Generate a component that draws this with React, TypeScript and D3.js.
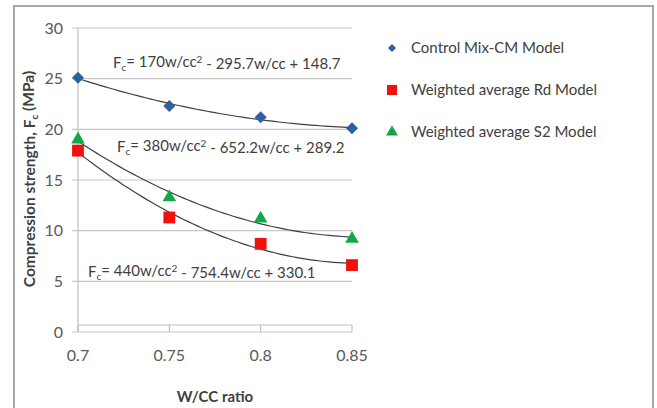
import React, { useEffect, useRef } from 'react';
import * as d3 from 'd3';

const ratios = [0.7, 0.75, 0.8, 0.85];
const controlMix = [25.1, 22.3, 21.2, 20.1];
const rdModel = [17.9, 11.3, 8.7, 6.6];
const s2Model = [19.0, 13.3, 11.2, 9.2];
const yTicks = [0, 5, 10, 15, 20, 25, 30];
const xTicks = [0.7, 0.75, 0.8, 0.85];
const legendNames = ['Control Mix-CM Model', 'Weighted average Rd Model', 'Weighted average S2 Model'];
const equations = [
  { a: '170', b: '295.7', c: '148.7' },
  { a: '380', b: '652.2', c: '289.2' },
  { a: '440', b: '754.4', c: '330.1' },
];

// least squares quadratic, same as an excel poly(2) trendline
function polyFit2(xs: number[], ys: number[]) {
  let s0 = 0, s1 = 0, s2 = 0, s3 = 0, s4 = 0, t0 = 0, t1 = 0, t2 = 0;
  xs.forEach((x, i) => {
    const y = ys[i];
    s0 += 1; s1 += x; s2 += x * x; s3 += x * x * x; s4 += x * x * x * x;
    t0 += y; t1 += x * y; t2 += x * x * y;
  });
  const m = [
    [s4, s3, s2, t2],
    [s3, s2, s1, t1],
    [s2, s1, s0, t0],
  ];
  for (let i = 0; i < 3; i++) {
    for (let k = i + 1; k < 3; k++) {
      const f = m[k][i] / m[i][i];
      for (let j = i; j < 4; j++) m[k][j] -= f * m[i][j];
    }
  }
  const r = [0, 0, 0];
  for (let i = 2; i >= 0; i--) {
    let s = m[i][3];
    for (let j = i + 1; j < 3; j++) s -= m[i][j] * r[j];
    r[i] = s / m[i][i];
  }
  return (x: number) => r[0] * x * x + r[1] * x + r[2];
}

export default function App() {
  const ref = useRef<SVGSVGElement>(null);

  useEffect(() => {
    document.body.style.margin = '0';
    const width = 657;
    const height = 408;
    const svg = d3.select(ref.current).attr('width', width).attr('height', height);
    svg.selectAll('*').remove();

    const font = 'Lato, "Open Sans", sans-serif';
    const x = d3.scaleLinear().domain([0.7, 0.85]).range([78, 352]);
    const y = d3.scaleLinear().domain([0, 30]).range([332, 28]);

    svg.append('rect').attr('width', width).attr('height', height).attr('fill', '#fff');

    // outer frame
    svg.append('path')
      .attr('d', 'M14,410 L14,6 L653,6 L653,410')
      .attr('fill', 'none')
      .attr('stroke', '#a8a8a8')
      .attr('stroke-width', 2);

    // gridlines
    svg.append('g')
      .selectAll('line')
      .data(yTicks)
      .enter()
      .append('line')
      .attr('x1', 72)
      .attr('x2', x(0.85))
      .attr('y1', d => y(d))
      .attr('y2', d => y(d))
      .attr('stroke', '#c8c8c8')
      .attr('stroke-width', 1.2);

    // y axis line
    svg.append('line')
      .attr('x1', x(0.7)).attr('x2', x(0.7))
      .attr('y1', y(30)).attr('y2', y(0))
      .attr('stroke', '#c0c0c0').attr('stroke-width', 1.2);

    // x axis line sits a little above zero with ticks dropping down
    const axisY = y(0) - 7;
    svg.append('line')
      .attr('x1', x(0.7)).attr('x2', x(0.85))
      .attr('y1', axisY).attr('y2', axisY)
      .attr('stroke', '#c0c0c0').attr('stroke-width', 1.2);
    svg.append('g')
      .selectAll('line')
      .data(xTicks)
      .enter()
      .append('line')
      .attr('x1', d => x(d)).attr('x2', d => x(d))
      .attr('y1', axisY).attr('y2', y(0))
      .attr('stroke', '#c0c0c0').attr('stroke-width', 1.2);

    // tick labels
    svg.append('g')
      .selectAll('text')
      .data(yTicks)
      .enter()
      .append('text')
      .attr('x', 63)
      .attr('y', d => y(d))
      .attr('dy', '0.35em')
      .attr('text-anchor', 'end')
      .attr('font-family', font)
      .attr('font-size', 16)
      .attr('fill', '#595959')
      .text(d => d);

    svg.append('g')
      .selectAll('text')
      .data(xTicks)
      .enter()
      .append('text')
      .attr('x', d => x(d))
      .attr('y', 355)
      .attr('dy', '0.35em')
      .attr('text-anchor', 'middle')
      .attr('font-family', font)
      .attr('font-size', 16)
      .attr('fill', '#595959')
      .text(d => d);

    // axis titles
    svg.append('text')
      .attr('x', 215)
      .attr('y', 397)
      .attr('dy', '0.35em')
      .attr('text-anchor', 'middle')
      .attr('font-family', font)
      .attr('font-size', 15)
      .attr('font-weight', 'bold')
      .attr('fill', '#404040')
      .text('W/CC ratio');

    const yTitle = svg.append('text')
      .attr('transform', 'translate(30,179) rotate(-90)')
      .attr('dy', '0.35em')
      .attr('text-anchor', 'middle')
      .attr('font-family', font)
      .attr('font-size', 15.5)
      .attr('font-weight', 'bold')
      .attr('fill', '#404040');
    yTitle.append('tspan').text('Compression strength, F');
    yTitle.append('tspan').attr('font-size', 10).attr('dy', '0.3em').text('c');
    yTitle.append('tspan').attr('dy', '-0.3em').text(' (MPa)');

    // trendlines
    const xs = d3.range(0.7, 0.8501, 0.0025);
    [controlMix, rdModel, s2Model].forEach(vals => {
      const f = polyFit2(ratios, vals);
      svg.append('path')
        .attr('d', d3.line<number>().x(d => x(d)).y(d => y(f(d)))(xs))
        .attr('fill', 'none')
        .attr('stroke', '#404040')
        .attr('stroke-width', 1.2);
    });

    // equation labels
    const eqPos = [[113, 63], [117, 147], [88, 272]];
    equations.forEach((e, i) => {
      const t = svg.append('text')
        .attr('x', eqPos[i][0])
        .attr('y', eqPos[i][1])
        .attr('dy', '0.35em')
        .attr('font-family', font)
        .attr('font-size', 15)
        .attr('fill', '#404040');
      t.append('tspan').text('F');
      t.append('tspan').attr('font-size', 10).attr('dy', '0.3em').text('c');
      t.append('tspan').attr('dy', '-0.3em').text(`= ${e.a}w/cc`);
      t.append('tspan').attr('font-size', 10).attr('dy', '-0.4em').text('2');
      t.append('tspan').attr('dy', '0.4em').text(` - ${e.b}w/cc + ${e.c}`);
    });

    // markers
    const diamond = d3.symbol().type(d3.symbolSquare).size(72);
    const square = d3.symbol().type(d3.symbolSquare).size(140);
    const triangle = d3.symbol().type(d3.symbolTriangle).size(80);

    svg.append('g')
      .selectAll('path')
      .data(controlMix)
      .enter()
      .append('path')
      .attr('d', diamond)
      .attr('transform', (d, i) => `translate(${x(ratios[i])},${y(d)}) rotate(45)`)
      .attr('fill', '#2e5f9e');

    svg.append('g')
      .selectAll('path')
      .data(rdModel)
      .enter()
      .append('path')
      .attr('d', square)
      .attr('transform', (d, i) => `translate(${x(ratios[i])},${y(d)})`)
      .attr('fill', '#f01010');

    svg.append('g')
      .selectAll('path')
      .data(s2Model)
      .enter()
      .append('path')
      .attr('d', triangle)
      .attr('transform', (d, i) => `translate(${x(ratios[i])},${y(d)})`)
      .attr('fill', '#12a84a');

    // legend
    const legendSymbols = [
      { path: d3.symbol().type(d3.symbolSquare).size(34), color: '#2e5f9e', rot: 45 },
      { path: d3.symbol().type(d3.symbolSquare).size(100), color: '#f01010', rot: 0 },
      { path: d3.symbol().type(d3.symbolTriangle).size(60), color: '#12a84a', rot: 0 },
    ];
    const legend = svg.append('g');
    legendNames.forEach((name, i) => {
      const ly = 48 + i * 42;
      legend.append('path')
        .attr('d', legendSymbols[i].path)
        .attr('transform', `translate(392,${ly}) rotate(${legendSymbols[i].rot})`)
        .attr('fill', legendSymbols[i].color);
      legend.append('text')
        .attr('x', 411)
        .attr('y', ly)
        .attr('dy', '0.35em')
        .attr('font-family', font)
        .attr('font-size', 15)
        .attr('fill', '#404040')
        .text(name);
    });
  }, []);

  return <svg ref={ref} style={{ display: 'block' }} />;
}
